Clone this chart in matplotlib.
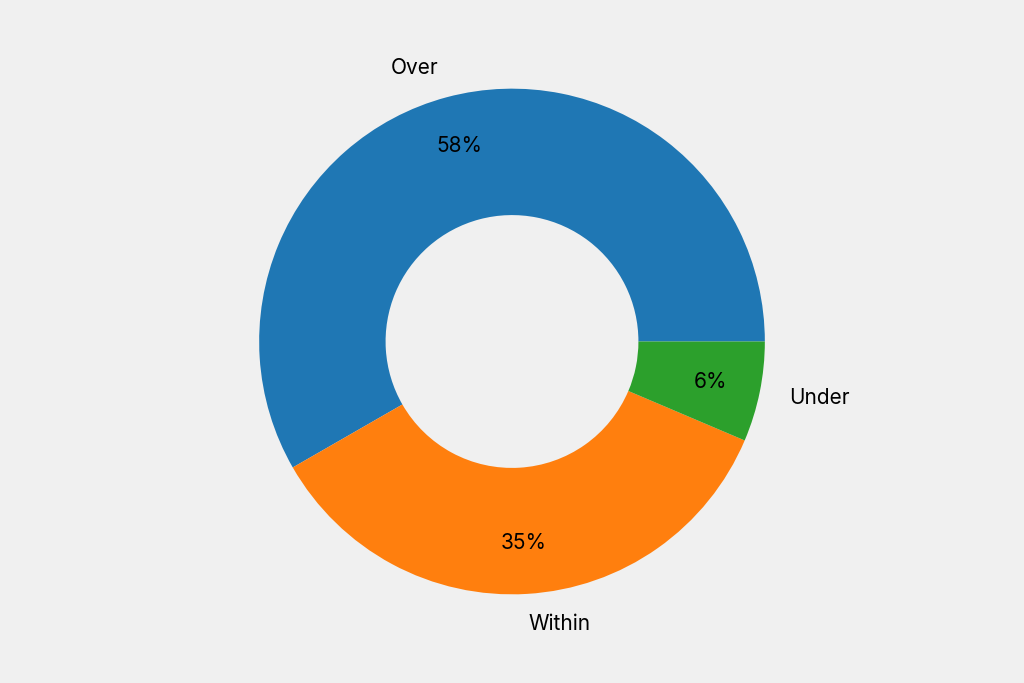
import matplotlib
matplotlib.use('Agg')
import matplotlib.pyplot as plt

labels = ['Over', 'Within', 'Under']
shares = [58.3, 35.3, 6.4]
colors = ['#1f77b4', '#ff7f0e', '#2ca02c']

plt.rcParams['font.family'] = ['Inter', 'DejaVu Sans']

fig = plt.figure(figsize=(10.24, 6.83), dpi=100, facecolor='#f0f0f0')
ax = fig.add_axes([0.1, 0.1, 0.8, 0.8])
ax.set_facecolor('#f0f0f0')
ax.pie(shares, labels=labels, colors=colors, autopct='%1.0f%%', startangle=0,
       radius=1.0, pctdistance=0.8, labeldistance=1.12,
       wedgeprops=dict(width=0.5), textprops=dict(fontsize=15))
ax.set_aspect('equal')
ax.set_ylim(-0.863, 0.863)
ax.set_xlim(-1.62, 1.62)
fig.savefig('out.png', dpi=100, facecolor=fig.get_facecolor())
